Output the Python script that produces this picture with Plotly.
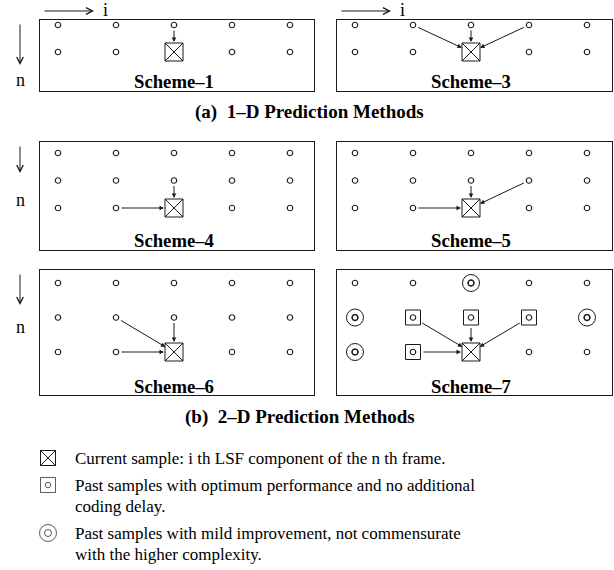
import plotly.graph_objects as go

W, H = 614, 570
SERIF = "Liberation Serif"
INK = "#1a1a1a"

# ---------------- data ----------------
COLS = [0, 1, 2, 3, 4]
scheme_names = ["Scheme–1", "Scheme–3", "Scheme–4", "Scheme–5", "Scheme–6", "Scheme–7"]
scheme_rows = [2, 2, 3, 3, 3, 3]
target_col = 2
# predictor samples (column, row) feeding the current sample of each scheme
scheme_preds = [
    [(2, 0)],
    [(1, 0), (2, 0), (3, 0)],
    [(1, 2), (2, 1)],
    [(1, 2), (2, 1), (3, 1)],
    [(1, 2), (1, 1), (2, 1)],
    [(1, 2), (1, 1), (2, 1), (3, 1)],
]
s7_optimum = [(1, 1), (2, 1), (3, 1), (1, 2)]
s7_mild = [(2, 0), (0, 1), (4, 1), (0, 2)]

captions = ["(a)  1–D Prediction Methods", "(b)  2–D Prediction Methods"]
legend_items = [
    ("cross", ["Current sample: i th LSF component of the n th frame."]),
    ("square", ["Past samples with optimum performance and no additional", "coding delay."]),
    ("ring", ["Past samples with mild improvement, not commensurate", "with the higher complexity."]),
]

# ---------------- layout (pixels) ----------------
COL0, DCOL = 18, 58
panels = [
    dict(box=(40, 20, 314, 91), row0=5, drow=27, label=61),
    dict(box=(337, 20, 612, 91), row0=5, drow=27, label=61),
    dict(box=(40, 142, 314, 250), row0=11, drow=27.5, label=98),
    dict(box=(337, 142, 612, 250), row0=11, drow=27.5, label=98),
    dict(box=(40, 270, 314, 395), row0=13, drow=34.5, label=117),
    dict(box=(337, 270, 612, 395), row0=13, drow=34.5, label=117),
]

fig = go.Figure()
layout = dict(
    width=W, height=H, margin=dict(l=0, r=0, t=0, b=0),
    paper_bgcolor="white", plot_bgcolor="white", showlegend=False,
)
annotations = []

dot = dict(symbol="circle-open", size=5.5, color=INK, line=dict(width=1.1, color=INK))


def ring(size, width=1.0):
    return dict(symbol="circle-open", size=size, color=INK, line=dict(width=width, color=INK))


for k, (p, name, nrows, preds) in enumerate(zip(panels, scheme_names, scheme_rows, scheme_preds), start=1):
    l, t, r, b = p["box"]
    xa, ya = ("x" if k == 1 else f"x{k}"), ("y" if k == 1 else f"y{k}")
    sfx = "" if k == 1 else str(k)
    layout[f"xaxis{sfx}"] = dict(
        domain=[l / W, r / W], range=[-COL0 / DCOL, (r - l - COL0) / DCOL],
        showgrid=False, zeroline=False, showticklabels=False, ticks="",
        showline=True, mirror=True, linecolor=INK, linewidth=1, anchor=ya, fixedrange=True,
    )
    layout[f"yaxis{sfx}"] = dict(
        domain=[1 - b / H, 1 - t / H], range=[(b - t - p["row0"]) / p["drow"], -p["row0"] / p["drow"]],
        showgrid=False, zeroline=False, showticklabels=False, ticks="",
        showline=True, mirror=True, linecolor=INK, linewidth=1, anchor=xa, fixedrange=True,
    )
    trow = nrows - 1
    gx, gy = [], []
    for rr in range(nrows):
        for c in COLS:
            if (c, rr) != (target_col, trow):
                gx.append(c)
                gy.append(rr)
    fig.add_trace(go.Scatter(x=gx, y=gy, mode="markers", marker=dot, xaxis=xa, yaxis=ya, hoverinfo="skip"))
    if name == "Scheme–7":
        fig.add_trace(go.Scatter(
            x=[c for c, _ in s7_optimum], y=[rr for _, rr in s7_optimum], mode="markers",
            marker=dict(symbol="square-open", size=15, color=INK, line=dict(width=1, color=INK)),
            xaxis=xa, yaxis=ya, hoverinfo="skip"))
        for sz in (17, 6.5):
            fig.add_trace(go.Scatter(
                x=[c for c, _ in s7_mild], y=[rr for _, rr in s7_mild], mode="markers",
                marker=ring(sz), xaxis=xa, yaxis=ya, hoverinfo="skip"))
    # current sample
    fig.add_trace(go.Scatter(
        x=[target_col], y=[trow], mode="markers",
        marker=dict(symbol="square-x-open", size=18, color=INK, line=dict(width=1, color=INK)),
        xaxis=xa, yaxis=ya, hoverinfo="skip"))
    for (c, rr) in preds:
        boxed = name == "Scheme–7"
        annotations.append(dict(
            x=target_col, y=trow, ax=c, ay=rr, xref=xa, yref=ya, axref=xa, ayref=ya,
            text="", showarrow=True, arrowhead=2, arrowsize=0.9, arrowwidth=1, arrowcolor=INK,
            standoff=10, startstandoff=9 if boxed else 4,
        ))
    annotations.append(dict(
        x=target_col, y=(p["label"] - p["row0"]) / p["drow"], xref=xa, yref=ya,
        xanchor="center", yanchor="middle",
        text=f"<b>{name}</b>", showarrow=False, font=dict(family=SERIF, size=18.7, color="black"),
    ))

# direction indicators (i: across components, n: across frames)
for lx in (43, 340):
    annotations.append(dict(x=(lx + 51) / W, y=1 - 11 / H, xref="paper", yref="paper", ax=-51, ay=0,
                            text="", showarrow=True, arrowhead=5, arrowsize=1.3, arrowwidth=1, arrowcolor=INK))
    annotations.append(dict(x=(lx + 62) / W, y=1 - 10 / H, xref="paper", yref="paper", text="i",
                            xanchor="center", yanchor="middle",
                            showarrow=False, font=dict(family=SERIF, size=18, color="black")))
for (top, tip, ny) in ((23, 65, 80), (145, 173, 200), (273, 305, 327)):
    annotations.append(dict(x=20 / W, y=1 - tip / H, xref="paper", yref="paper", ax=0, ay=-(tip - top),
                            text="", showarrow=True, arrowhead=5, arrowsize=1.3, arrowwidth=1, arrowcolor=INK))
    annotations.append(dict(x=20 / W, y=1 - ny / H, xref="paper", yref="paper", text="n",
                            xanchor="center", yanchor="middle",
                            showarrow=False, font=dict(family=SERIF, size=18, color="black")))

for cap, (cx, cy) in zip(captions, ((309, 112), (300, 417))):
    annotations.append(dict(x=cx / W, y=1 - cy / H, xref="paper", yref="paper", text=f"<b>{cap}</b>",
                            xanchor="center", yanchor="middle",
                            showarrow=False, font=dict(family=SERIF, size=19, color="black")))

# legend area axis (pixel units)
layout["xaxis7"] = dict(domain=[0, 1], range=[0, W], visible=False, anchor="y7", fixedrange=True)
layout["yaxis7"] = dict(domain=[0, 1 - 440 / H], range=[H, 440], visible=False, anchor="x7", fixedrange=True)
LX, LT, LY0, LGAP, LLINE = 48, 73, 458, 27, 21
yy = LY0
for kind, lines in legend_items:
    if kind == "cross":
        fig.add_trace(go.Scatter(x=[LX], y=[yy], mode="markers", xaxis="x7", yaxis="y7", hoverinfo="skip",
                                 marker=dict(symbol="square-x-open", size=15, color=INK, line=dict(width=1, color=INK))))
    elif kind == "square":
        fig.add_trace(go.Scatter(x=[LX, LX], y=[yy, yy], mode="markers", xaxis="x7", yaxis="y7", hoverinfo="skip",
                                 marker=dict(symbol=["square-open", "circle-open"], size=[15, 5.5], color=INK,
                                             line=dict(width=1, color=INK))))
    else:
        fig.add_trace(go.Scatter(x=[LX, LX], y=[yy, yy], mode="markers", xaxis="x7", yaxis="y7", hoverinfo="skip",
                                 marker=dict(symbol=["circle-open", "circle-open"], size=[17, 7], color=INK,
                                             line=dict(width=1, color=INK))))
    for j, line in enumerate(lines):
        annotations.append(dict(x=LT, y=yy + j * LLINE, xref="x7", yref="y7", text=line, showarrow=False,
                                xanchor="left", yanchor="middle",
                                font=dict(family=SERIF, size=17, color="black")))
    yy += LGAP + (len(lines) - 1) * LLINE

layout["annotations"] = annotations
fig.update_layout(**layout)
fig.write_html("out.html", config={"displayModeBar": False},
               post_script="document.body.style.margin='0px';document.body.style.overflow='hidden';")
